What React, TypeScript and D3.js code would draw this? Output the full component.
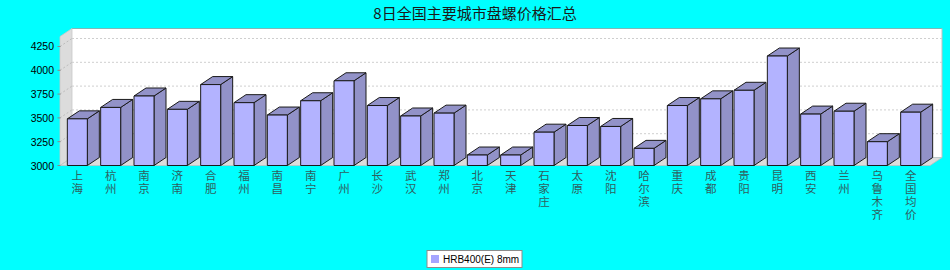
import React from "react";
import * as d3 from "d3";

const title = "8日全国主要城市盘螺价格汇总";
const seriesName = "HRB400(E) 8mm";
const categories = [
  "上海", "杭州", "南京", "济南", "合肥", "福州", "南昌", "南宁", "广州", "长沙",
  "武汉", "郑州", "北京", "天津", "石家庄", "太原", "沈阳", "哈尔滨", "重庆", "成都",
  "贵阳", "昆明", "西安", "兰州", "乌鲁木齐", "全国均价",
];
const values = [
  3490, 3610, 3730, 3590, 3850, 3660, 3530, 3680, 3890, 3630,
  3520, 3550, 3110, 3110, 3350, 3420, 3410, 3180, 3630, 3700,
  3790, 4150, 3540, 3570, 3250, 3560,
];
const yTicks = [3000, 3250, 3500, 3750, 4000, 4250];

const W = 950;
const H = 270;
const left = 60;
const right = 930;
const bottom = 165.5;
const top = 36.5;
const dx = 12;
const dy = -8;

export default function App() {
  const x = d3
    .scaleBand<string>()
    .domain(categories)
    .range([left, right - 2])
    .paddingInner(0.4)
    .paddingOuter(0.22);
  const y = d3.scaleLinear().domain([3000, 4355]).range([bottom, top]);
  const bw = x.bandwidth();

  const frontColor = "#b3b3ff";
  const sideColor = "#9292c8";
  const wallColor = "#dcdcdc";

  return (
    <svg
      width={W}
      height={H}
      style={{ position: "absolute", left: 0, top: 0 }}
      fontFamily="'Liberation Sans', Arial, sans-serif"
    >
      <rect x={0} y={0} width={W} height={H} fill="#00ffff" />
      <text
        x={475}
        y={19}
        textAnchor="middle"
        fontSize={15}
        fontFamily="'Noto Sans CJK SC', sans-serif"
        fill="#1a1a1a"
      >
        {title}
      </text>

      {/* back wall */}
      <rect
        x={left + dx}
        y={top + dy}
        width={right - left}
        height={bottom - top}
        fill="#ffffff"
      />
      <line x1={left + dx} x2={right + dx} y1={top + dy} y2={top + dy} stroke="#7fb8b8" strokeWidth={1.2} />
      <line x1={right + dx} x2={right + dx} y1={top + dy} y2={bottom + dy} stroke="#c0c0c0" strokeWidth={1} />
      {/* left wall */}
      <polygon
        points={`${left},${top} ${left + dx},${top + dy} ${left + dx},${bottom + dy} ${left},${bottom}`}
        fill={wallColor}
        stroke="#c8c8c8"
        strokeWidth={0.8}
      />
      {/* floor */}
      <polygon
        points={`${left},${bottom} ${left + dx},${bottom + dy} ${right + dx},${bottom + dy} ${right},${bottom}`}
        fill={wallColor}
        stroke="#c0c0c0"
        strokeWidth={0.8}
      />

      {/* gridlines */}
      {yTicks.slice(1).map((t) => (
        <g key={`g${t}`}>
          <line
            x1={left + dx}
            x2={right + dx}
            y1={y(t) + dy}
            y2={y(t) + dy}
            stroke="#cfcfcf"
            strokeDasharray="2,2"
          />
          <line
            x1={left}
            x2={left + dx}
            y1={y(t)}
            y2={y(t) + dy}
            stroke="#bdbdbd"
            strokeDasharray="2,2"
          />
        </g>
      ))}

      {/* y axis ticks and labels */}
      {yTicks.map((t) => (
        <g key={`t${t}`}>
          <line x1={57.5} x2={60.5} y1={y(t)} y2={y(t)} stroke="#888" />
          <text x={54} y={y(t) + 4} textAnchor="end" fontSize={10.5} fill="#000">
            {t}
          </text>
        </g>
      ))}

      {/* bars */}
      {categories.map((c, i) => {
        const x0 = x(c) as number;
        const x1 = x0 + bw;
        const yt = y(values[i]);
        return (
          <g key={c} stroke="#1a1a1a" strokeWidth={1} strokeLinejoin="round">
            <polygon
              points={`${x1},${yt} ${x1 + dx},${yt + dy} ${x1 + dx},${bottom + dy} ${x1},${bottom}`}
              fill={sideColor}
            />
            <polygon
              points={`${x0},${yt} ${x0 + dx},${yt + dy} ${x1 + dx},${yt + dy} ${x1},${yt}`}
              fill={sideColor}
            />
            <rect x={x0} y={yt} width={bw} height={bottom - yt} fill={frontColor} />
          </g>
        );
      })}

      {/* category labels (vertical) */}
      {categories.map((c) => {
        const cx = (x(c) as number) + bw / 2;
        return (
          <text
            key={`l${c}`}
            x={cx}
            y={169.5}
            fontSize={11.5}
            fontFamily="'Noto Sans CJK SC', sans-serif"
            fill="#2f6060"
            style={{ writingMode: "vertical-rl", textOrientation: "upright", letterSpacing: "1.7px" }}
          >
            {c}
          </text>
        );
      })}

      {/* legend */}
      <rect x={427} y={250.5} width={95} height={17} fill="#ffffff" stroke="#8c8c8c" strokeWidth={1} />
      <rect x={431} y={255} width={8} height={8} fill="#a5a5ff" />
      <text x={443} y={263} fontSize={10} fill="#000">
        {seriesName}
      </text>
    </svg>
  );
}
